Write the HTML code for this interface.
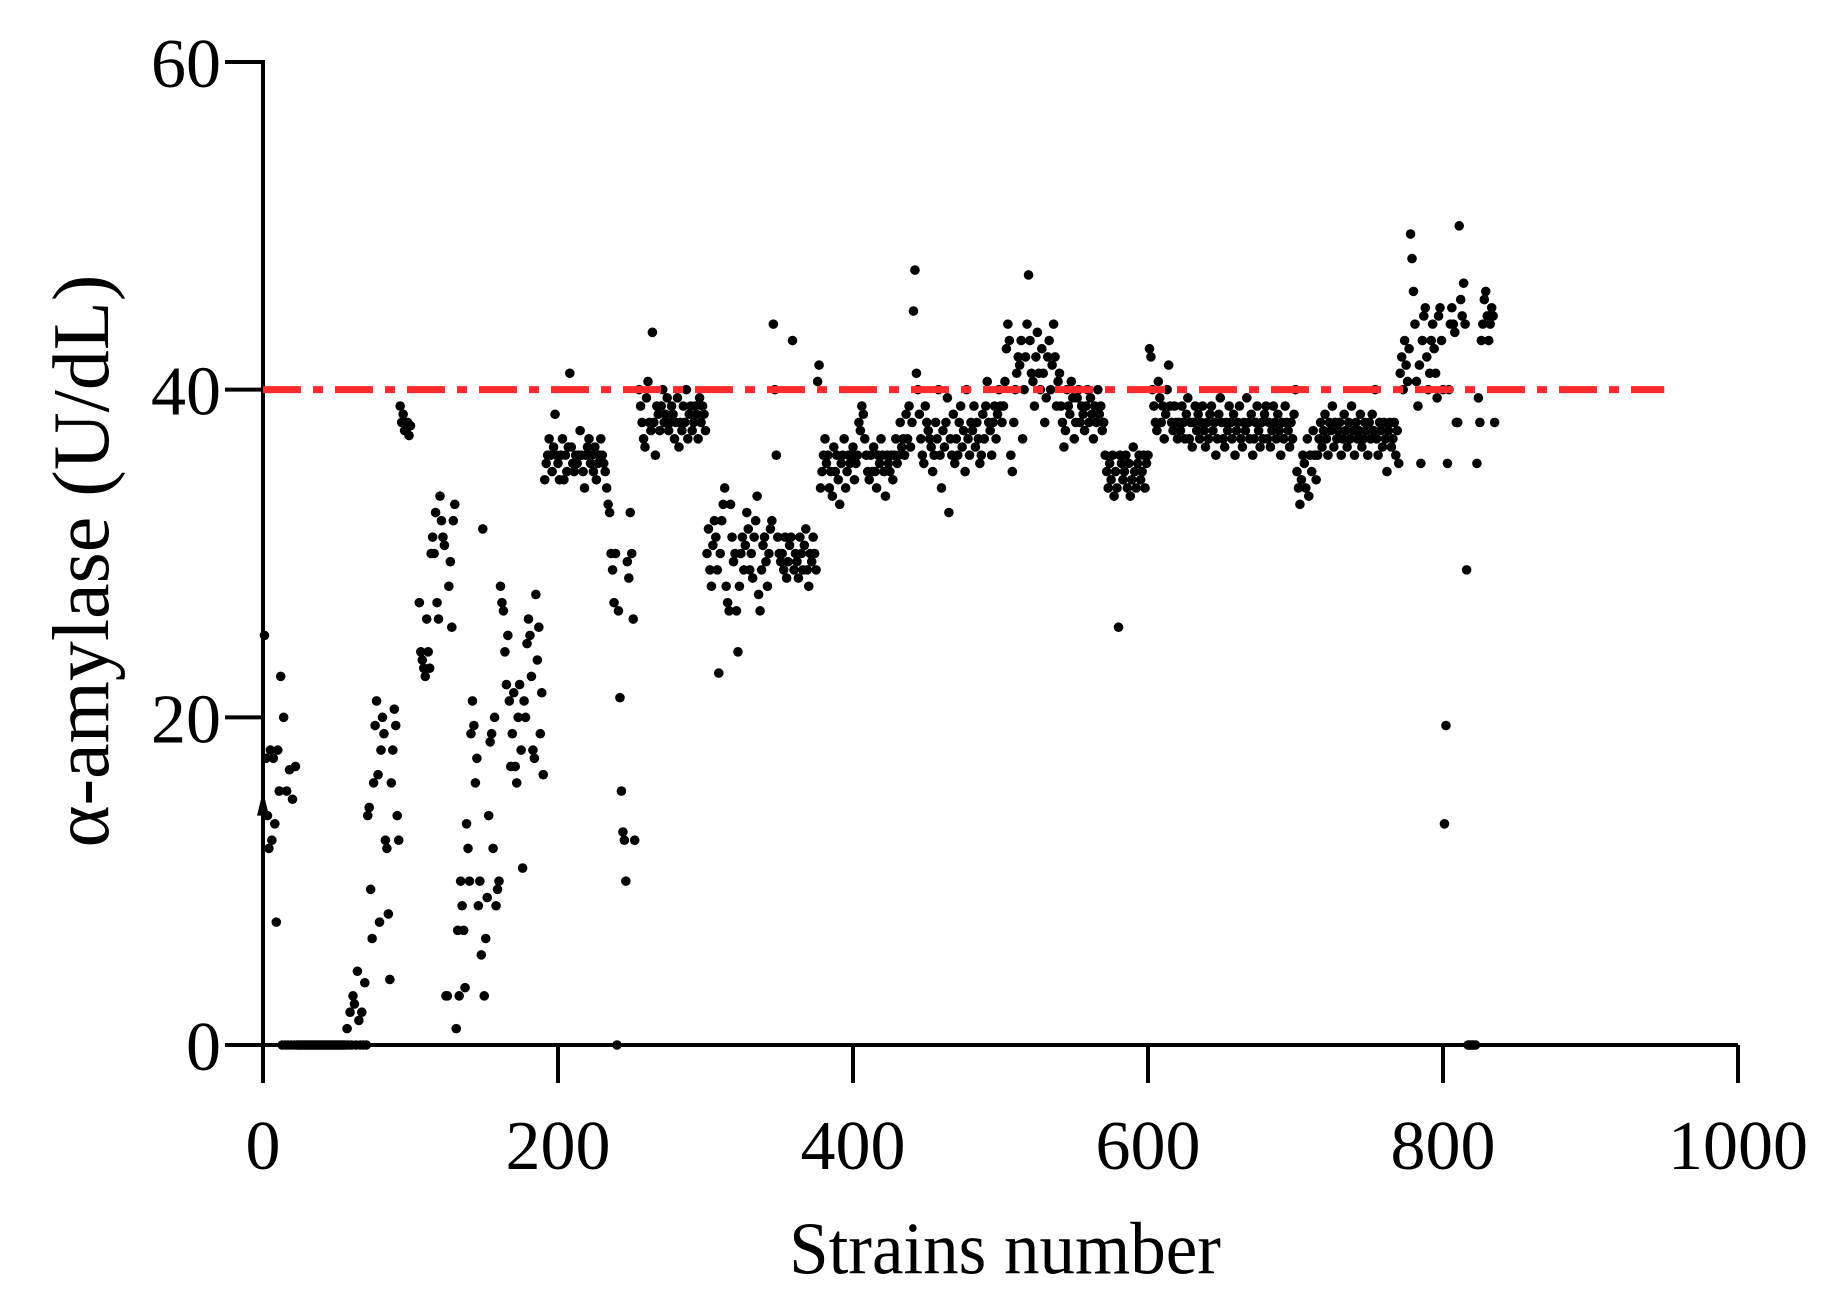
<!DOCTYPE html>
<html><head><meta charset="utf-8"><style>
html,body{margin:0;padding:0;background:#fff;}
svg{display:block;font-family:"Liberation Serif","DejaVu Serif",serif;}
</style></head><body>
<svg id="chart" width="1844" height="1307" viewBox="0 0 1844 1307" xmlns="http://www.w3.org/2000/svg">
<g id="axes"></g>
<g id="marks"></g>
<text x="1005" y="1274" font-size="71" text-anchor="middle" transform="translate(1005,0) scale(1,1.05) translate(-1005,-61)">Strains number</text>
<text x="0" y="0" font-size="80" text-anchor="middle" transform="translate(108,561) rotate(-90)">α-amylase (U/dL)</text>
</svg>
<script>
const xTicks = [0, 200, 400, 600, 800, 1000];
const yTicks = [0, 20, 40, 60];
const thresholdValue = 40;
const thresholdEnd = 950;
const segStarts = [1,12,26,56,71,93,106,131,161,191,234,255,301,346,376,441,501,541,571,601,621,701,716,771,801];
const segA=[25,17.5,14,12,18,12.5,17.5,13.5,7.5,18,15.5];
const segB=[22.5,0,20,0,15.5,0,16.8,0,15,0,17,0,0,0];
const segC=[0,0,0,0,0,0,0,0,0,0,0,0,0,0,0,0,0,0,0,0,0,0,0,0,0,0,0,0,0,0];
const segD=[0,1,0,2,0,3,2.5,0,4.5,1.5,0,2,0,3.8,0];
const segE=[14,14.5,9.5,6.5,16,19.5,21,16.5,7.5,18,20,19,12.5,12,8,4,16,18,20.5,19.5,14,12.5];
const segF=[39,38,38.5,37.5,37.5,38,37.2,37.8];
const segG=[27,24,23.5,23,22.5,26,24,23,30,31,30,32.5,27,26,33.5,32,31,30.5,3,3,28,29.5,25.5,32,33];
const segH=[1,7,3,10,8.5,7,3.5,13.5,12,10,19,21,19.5,16,17.5,8.5,10,5.5,31.5,3,6.5,9,14,18.5,19,12,20,8.5,9.5,10];
const segI=[28,27,26.5,24,22,25,21,17,19,21.5,17,16,20,22,18,10.8,21,20,24.5,26,25,22.5,18,17.5,27.5,23.5,25.5,19,21.5,16.5];
const segJ=[34.5,35.5,36,37,36,35,36.5,38.5,36,35.5,34.5,36,37,34.5,36,35,36.5,41,36.5,35.5,35,36,35.5,36,37.5,36,35,34,36,36.5,37,35.5,36,35,36.5,34.5,35.5,36,37,36,35.5,35,34];
const segK=[33,32.5,30,29,27,30,0,26.5,21.2,15.5,13,12.5,10,29.5,28.5,32.5,30,26,12.5];
const segL=[40,39,38,37,36.5,39.5,40.5,38,37.5,43.5,38,36,39,38.5,37.5,39,40,38,38.5,39.5,37.5,38,39,38.5,37,38,39.5,36.5,38,37.5,39,38,40,37,38.5,39,37.5,38,39,38.5,37,39.5,38,39,38.5,37.5];
const segM=[30,31.5,29,28,30.5,32,31,29,22.7,30,32,33,34,28,27,26.5,33,31,29.5,30,26.5,24,28,30,31,29,30.5,32.5,31.5,29,30,28.5,31,32,33.5,27.5,26.5,29,30.5,31,29.5,28,30,31.5,32];
const segN=[44,40,36,31,30,29.5,30,29,31,28.5,29.5,30.5,31,43,29,30,29.5,28.5,31,30,29,30.5,31.5,29,28,30,29.5,31,30,29];
const segO=[40.5,41.5,34,35,36,37,35.5,36,34,35,33.5,36.5,35,36,34.5,33,35.5,36,37,34,35,36,35.5,36,36.5,34.5,35.5,36,38,37.5,39,38.5,37,36,35,34.5,36,35,36.5,35,34,36,35.5,37,36,35,33.5,36,35.5,35,36,34.5,36,37,35.5,36,38,36.5,37,36,38.5,37,39,36.5,38];
const segP=[44.8,47.3,41,40,38.5,37,36,35.5,39,38,37.5,37,36.5,35,36,38,37,40,36,34,37.5,36.5,38,39.5,32.5,37,36,38.5,35.5,37,36,38,39,36.5,37.5,35,40,37,36,38,37.5,39,36.5,38,37,35.5,36,38.5,37,39,40.5,38,37.5,36,38,39,37,38.5,40,39];
const segQ=[38,39,40.5,42.5,44,43,36,35,38,40,41,42,41.5,43,37,40,42,44,47,43,41,40.5,39,42,43.5,41,40,42.5,41,38,39.5,42,43,40,41.5,44,42,39,40.5,41];
const segR=[39,38,36.5,37.5,40,39,38.5,40.5,39.5,37,38,39.5,40,38,39,38.5,37.5,39,40,38,39.5,38.5,37,39,38,40,38.5,39,37.5,38];
const segS=[36,35,34,35.5,34.5,36,33.5,35,34,25.5,36,35.5,34.5,35,36,34,35.5,33.5,34.5,36.5,35,34,35.5,36,34.5,35,36,34,35.5,36];
const segT=[42.5,42,40,39,38,37.5,40.5,39.5,38,39,37,38.5,40,41.5,39,38,37.5,39,38,37];
const segU=[38,37.5,39,38,37,38.5,39.5,37,38,36.5,38,39,37.5,38.5,37,38,39,37.5,36.5,38,37,38.5,39,37.5,38,36,37,38.5,39.5,38,37,36.5,38,37.5,39,38,37,38.5,36,37.5,38,39,37,36.5,38,37.5,39.5,38,37,38.5,36,37,38,39,37.5,36.5,38,37,38.5,39,37,38,36.5,37.5,39,38,37,38.5,37.5,36,38,37,39,38,37.5,36.5,38,37,38.5,40];
const segV=[35,34,33,34.5,36,35.5,34,37,33.5,36,35,37.5,36,34.5,36];
const segW=[37,38,36.5,37.5,38.5,37,36,38,37.5,39,36.5,38,37,37.5,38,36,37,38.5,37.5,36.5,38,37,39,37.5,36,38,37,37.5,38.5,36.5,37,38,37.5,36,38,37,38.5,37.5,40,37,36,38,37.5,36.5,38,37,35,37.5,38,36.5,37,38,36,37.5,35.5];
const segX=[41,42,40,43,41.5,40.5,42.5,49.5,48,46,44,40.5,39,41.5,35.5,43,44.5,45,42,40,41,43,44,42.5,41,39.5,44.5,45,43,40];
const segY=[13.5,19.5,35.5,40,44,45,44,43.5,38,38,50,45.5,44.5,46.5,44,29,0,0,0,0,0,0,35.5,39.5,38,43,44,45.5,46,44.5,43,44,45,44.5,38];
const segValues=[segA,segB,segC,segD,segE,segF,segG,segH,segI,segJ,segK,segL,segM,segN,segO,segP,segQ,segR,segS,segT,segU,segV,segW,segX,segY];

const NS="http://www.w3.org/2000/svg";
const X0=263, X1=1738, Y0=1045, Y1=62;
const sx=v=>X0+(v-0)/(1000-0)*(X1-X0);
const sy=v=>Y0-(v-0)/(60-0)*(Y0-Y1);
function mk(tag,attrs,parent){const e=document.createElementNS(NS,tag);for(const k in attrs)e.setAttribute(k,attrs[k]);parent.appendChild(e);return e;}
const axes=document.getElementById('axes');
let e;
e=mk('line',{x1:X0,y1:Y0,x2:X1,y2:Y0,stroke:'#000','stroke-width':4},axes);


e=mk('line',{x1:X0,y1:Y1-2,x2:X0,y2:Y0+2,stroke:'#000','stroke-width':4},axes);


xTicks.forEach(t=>{
  const tk=mk('line',{x1:sx(t),y1:Y0,x2:sx(t),y2:Y0+38,stroke:'#000','stroke-width':4},axes);
  
  
  const lb=mk('text',{x:sx(t),y:Y0+124,'font-size':70,'text-anchor':'middle'},axes);
  lb.textContent=t;
  
  
});
yTicks.forEach(t=>{
  const tk=mk('line',{x1:X0-38,y1:sy(t),x2:X0,y2:sy(t),stroke:'#000','stroke-width':4},axes);
  
  
  const lb=mk('text',{x:X0-42,y:sy(t)+25,'font-size':70,'text-anchor':'end'},axes);
  lb.textContent=t;
  
  
});
const marks=document.getElementById('marks');
segValues.forEach((vals,si)=>{
  vals.forEach((v,i)=>{
    const c=mk('circle',{cx:sx(segStarts[si]+i),cy:sy(v),r:4.8,fill:'#000'},marks);
    
    
  });
});
const ar=mk('path',{d:`M${sx(0)-6},${sy(14)} L${sx(0)},${sy(15.5)} L${sx(0)+6},${sy(14)} Z`,fill:'#000'},marks);


const th=mk('line',{x1:sx(0),y1:sy(thresholdValue),x2:sx(thresholdEnd),y2:sy(thresholdValue),stroke:'#ff2a2a','stroke-width':7,'stroke-dasharray':'38 12 10 12'},document.getElementById('chart'));


</script>
</body></html>
